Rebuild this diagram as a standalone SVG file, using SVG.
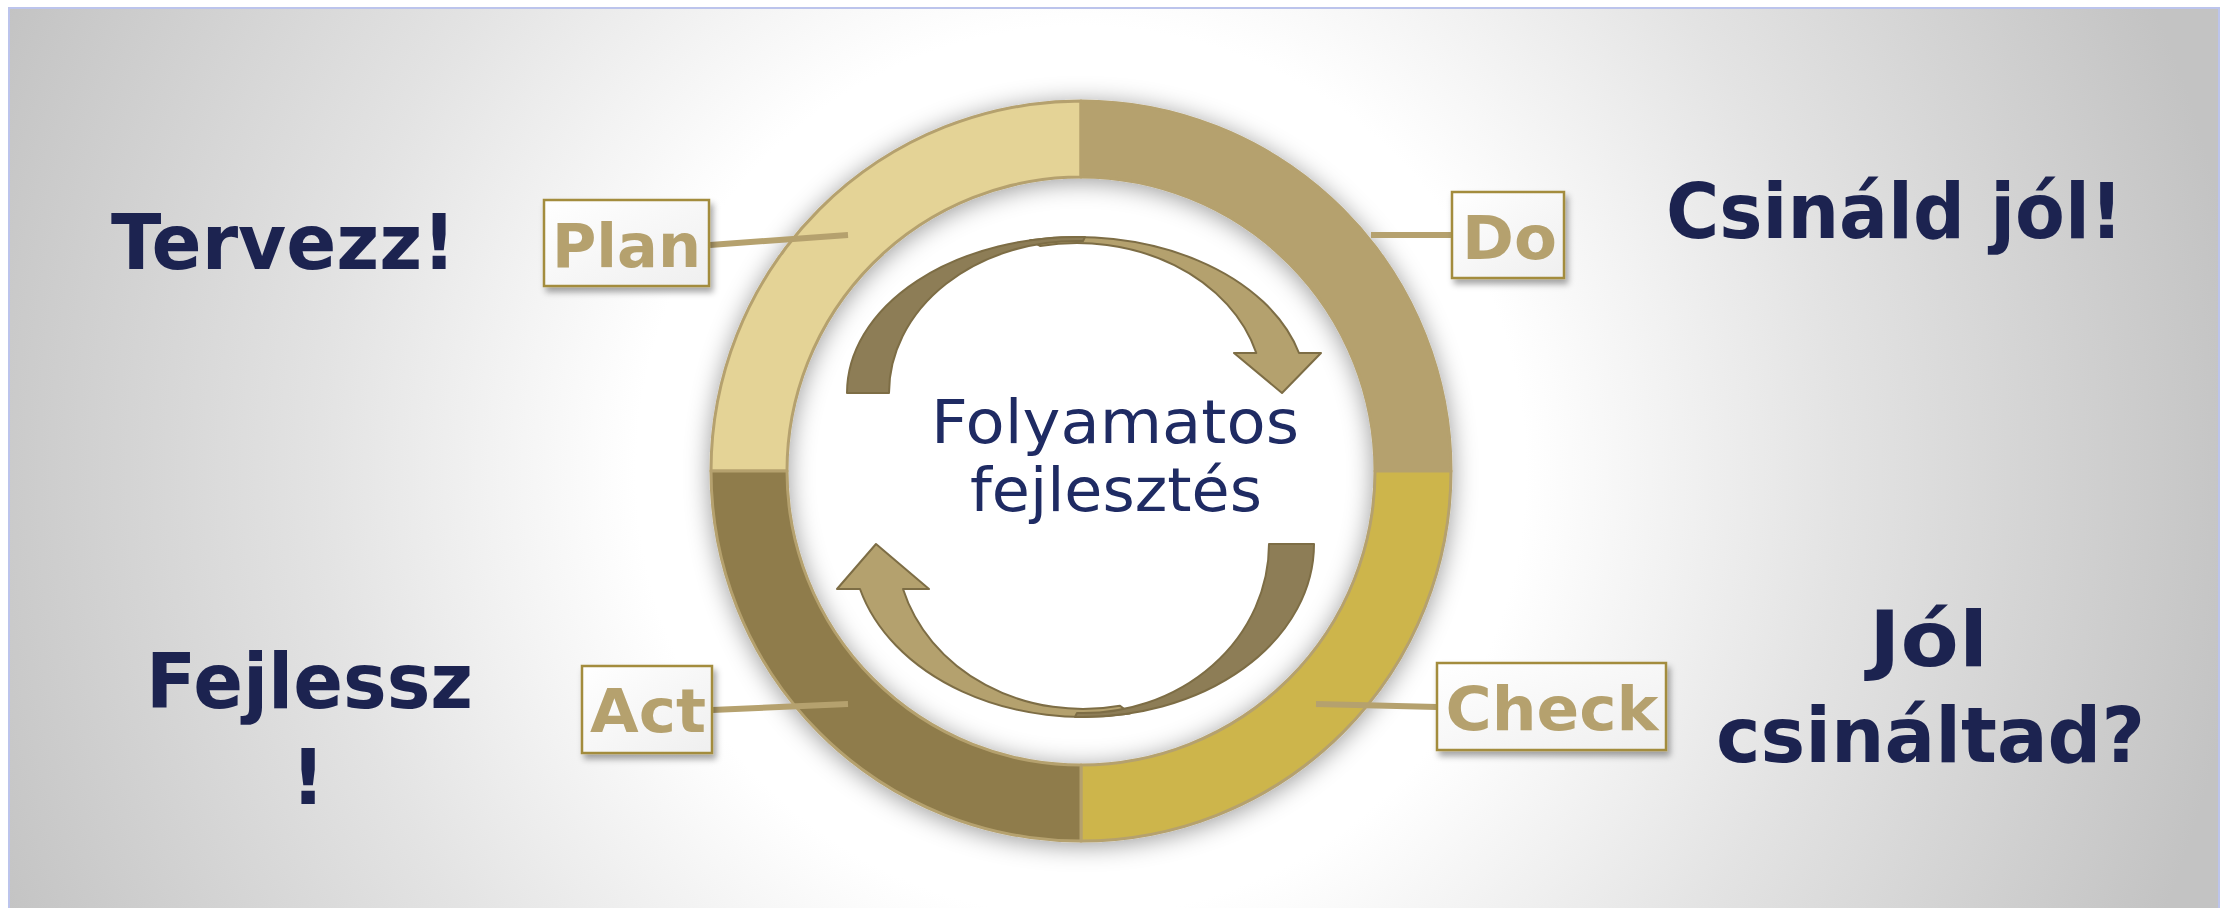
<svg xmlns="http://www.w3.org/2000/svg" width="2229" height="908" viewBox="0 0 2229 908">
  <defs>
    <radialGradient id="bg" gradientUnits="userSpaceOnUse" cx="1081" cy="471" r="1170">
      <stop offset="0" stop-color="#ffffff"/>
      <stop offset="0.38" stop-color="#ffffff"/>
      <stop offset="0.65" stop-color="#e3e3e3"/>
      <stop offset="1" stop-color="#c3c3c3"/>
    </radialGradient>
    <linearGradient id="boxFill" x1="0" y1="0" x2="1" y2="1">
      <stop offset="0" stop-color="#ffffff"/>
      <stop offset="1" stop-color="#efefef"/>
    </linearGradient>
    <filter id="ringShadow" x="-20%" y="-20%" width="140%" height="140%">
      <feGaussianBlur in="SourceAlpha" stdDeviation="12" result="b"/>
      <feOffset in="b" dx="0" dy="3" result="o"/>
      <feFlood flood-color="#000000" flood-opacity="0.4"/>
      <feComposite in2="o" operator="in" result="s"/>
      <feMerge><feMergeNode in="s"/><feMergeNode in="SourceGraphic"/></feMerge>
    </filter>
    <filter id="boxShadow" x="-20%" y="-20%" width="150%" height="160%">
      <feDropShadow dx="3" dy="5" stdDeviation="3" flood-color="#000000" flood-opacity="0.35"/>
    </filter>
  </defs>
  <style>
    .seg { stroke: #b5a16e; stroke-width: 3; stroke-linejoin: round; }
    .box { fill: url(#boxFill); stroke: #a38c3c; stroke-width: 2.5; filter: url(#boxShadow); }
    .lbl { font-family: "DejaVu Sans", "Liberation Sans", sans-serif; font-weight: bold; font-size: 61px; fill: #b5a16e; text-anchor: middle; }
    .big { font-family: "DejaVu Sans", "Liberation Sans", sans-serif; font-weight: bold; font-size: 76px; fill: #1c2350; text-anchor: middle; }
    .mid { font-family: "DejaVu Sans", "Liberation Sans", sans-serif; font-size: 61px; fill: #1f2b63; text-anchor: middle; }
    .conn { stroke: #b5a16e; stroke-width: 6; fill: none; }
    .arr { stroke: #7d6d45; stroke-width: 2; stroke-linejoin: round; }
  </style>

  <rect x="9" y="8" width="2210" height="902" fill="url(#bg)" stroke="#bcc4ec" stroke-width="2"/>

  <g id="ring" filter="url(#ringShadow)">
    <g id="seg-plan"><path class="seg" fill="#e4d396" d="M711 471 A370 370 0 0 1 1081 101 L1081 177 A294 294 0 0 0 787 471 Z"/></g>
    <g id="seg-do"><path class="seg" fill="#b5a16e" d="M1081 101 A370 370 0 0 1 1451 471 L1375 471 A294 294 0 0 0 1081 177 Z"/></g>
    <g id="seg-check"><path class="seg" fill="#cdb54c" d="M1451 471 A370 370 0 0 1 1081 841 L1081 765 A294 294 0 0 0 1375 471 Z"/></g>
    <g id="seg-act"><path class="seg" fill="#8f7c4b" d="M1081 841 A370 370 0 0 1 711 471 L787 471 A294 294 0 0 0 1081 765 Z"/></g>
  </g>

  <g id="cycle-arrows">
    <g id="arrow-top">
      <path class="arr" fill="#b4a16e" d="M1030 240.3 A230 156 0 0 1 1299 353 L1321 353 L1282 393 L1234 353 L1256.3 353 A186 150 0 0 0 1040 246 Z"/>
      <path class="arr" fill="#8d7d56" d="M847 393 A230 156 0 0 1 1085 237.1 L1083 241 A188 152 0 0 0 889 393 Z"/>
    </g>
    <g id="arrow-bottom">
      <path class="arr" fill="#b4a16e" d="M1130 713.4 A231 173 0 0 1 860 589 L837 589 L876 544 L929 589 L903 589 A187 165 0 0 0 1120 705.7 Z"/>
      <path class="arr" fill="#8d7d56" d="M1314 544 A231 173 0 0 1 1075 716.9 L1077 713 A186 169 0 0 0 1269 544 Z"/>
    </g>
  </g>

  <g id="connectors">
    <line class="conn" x1="710" y1="245" x2="848" y2="235"/>
    <line class="conn" x1="1371" y1="235" x2="1452" y2="235"/>
    <line class="conn" x1="712" y1="710" x2="848" y2="704"/>
    <line class="conn" x1="1316" y1="704" x2="1437" y2="707"/>
  </g>

  <g id="node-plan">
    <rect class="box" x="544" y="200" width="165" height="86"/>
    <text class="lbl" x="626.5" y="267" textLength="149" lengthAdjust="spacingAndGlyphs">Plan</text>
  </g>
  <g id="node-do">
    <rect class="box" x="1452" y="192" width="112" height="86"/>
    <text class="lbl" x="1509.5" y="259" textLength="95" lengthAdjust="spacingAndGlyphs">Do</text>
  </g>
  <g id="node-act">
    <rect class="box" x="582" y="666" width="130" height="87"/>
    <text class="lbl" x="648" y="732" textLength="116" lengthAdjust="spacingAndGlyphs">Act</text>
  </g>
  <g id="node-check">
    <rect class="box" x="1437" y="663" width="229" height="87"/>
    <text class="lbl" x="1552" y="730" textLength="213" lengthAdjust="spacingAndGlyphs">Check</text>
  </g>

  <g id="node-center">
    <text class="mid" x="1115" y="443" textLength="368" lengthAdjust="spacingAndGlyphs">Folyamatos</text>
    <text class="mid" x="1116" y="511" textLength="292" lengthAdjust="spacingAndGlyphs">fejlesztés</text>
  </g>

  <g id="text-plan"><text class="big" x="283.5" y="269" textLength="345" lengthAdjust="spacingAndGlyphs">Tervezz!</text></g>
  <g id="text-do"><text class="big" x="1894.5" y="238" textLength="457" lengthAdjust="spacingAndGlyphs">Csináld jól!</text></g>
  <g id="text-act">
    <text class="big" x="309.5" y="708" textLength="327" lengthAdjust="spacingAndGlyphs">Fejlessz</text>
    <text class="big" x="308" y="804">!</text>
  </g>
  <g id="text-check">
    <text class="big" x="1928.5" y="666" textLength="119" lengthAdjust="spacingAndGlyphs">Jól</text>
    <text class="big" x="1930.5" y="762" textLength="429" lengthAdjust="spacingAndGlyphs">csináltad?</text>
  </g>
</svg>
